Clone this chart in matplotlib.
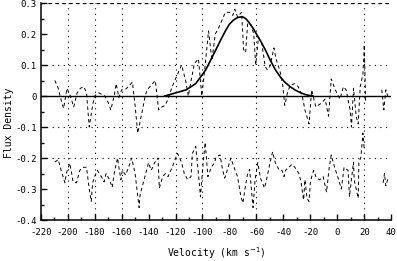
import numpy as np
import matplotlib
matplotlib.use("Agg")
import matplotlib.pyplot as plt
from matplotlib.ticker import MultipleLocator

# upper spectrum (velocity in km/s, flux density)
upper_v = [-209.5, -207, -204.5, -203, -200.5, -198, -195.5, -193, -190.5, -188,
           -186, -184, -181.5, -180, -177, -174.5, -172.5, -170, -168, -165.5,
           -164, -162, -160, -157.5, -155, -152, -150, -148, -145, -142.5,
           -141, -138, -135, -132.5, -130, -127.5, -125, -122.5, -120, -117.5,
           -115.5, -112.5, -110.5, -108, -106, -103, -100.5, -98, -95.5, -93,
           -90.5, -88, -85.5, -83, -80, -77.5, -76, -74, -71, -69.5,
           -68, -66.5, -64, -62, -60.5, -58.5, -56, -53.5, -52, -50,
           -47, -45.5, -42.5, -40.5, -39, -37, -35, -31.5, -29, -26,
           -24, -21, -19, -16, -12.5, -9, -6.5, -4.5, -1.5, 2,
           4.5, 6.5, 9.5, 10.5, 12, 14, 15.5, 17, 19, 20,
           21, 27, 33, 34.5, 36, 38]
upper_f = [0.05, 0.025, -0.02, -0.04, 0.025, 0.0, -0.035, 0.01, 0.025, 0.03,
           0.01, -0.1, -0.03, 0.0, 0.01, 0.005, 0.0, -0.02, -0.045, 0.0,
           0.04, -0.005, 0.02, 0.02, 0.03, 0.045, -0.03, -0.12, -0.055, 0.0,
           0.02, 0.035, 0.05, -0.045, -0.035, -0.03, -0.003, 0.03, 0.055, 0.08,
           0.1, 0.05, 0.0, 0.06, 0.105, 0.12, 0.0, 0.1, 0.21, 0.115,
           0.2, 0.22, 0.245, 0.27, 0.27, 0.26, 0.28, 0.255, 0.27, 0.15,
           0.14, 0.235, 0.23, 0.2, 0.1, 0.19, 0.17, 0.095, 0.085, 0.095,
           0.155, 0.12, 0.08, 0.035, -0.03, 0.01, 0.035, 0.04, 0.03, 0.0,
           -0.045, -0.09, 0.02, -0.035, -0.025, -0.01, -0.065, 0.055, 0.02, -0.01,
           0.03, 0.02, -0.045, -0.1, 0.025, -0.065, -0.09, 0.03, 0.07, 0.165,
           -0.02, np.nan, 0.02, -0.045, 0.02, -0.01]

# lower spectrum
lower_v = [-209.5, -207, -204.5, -202, -201, -198.5, -197, -196, -193.5, -191,
           -189, -186, -184, -182.5, -181.5, -180, -178, -175, -173, -171.5,
           -169, -167, -165.5, -163, -162, -160.5, -159.5, -157, -154, -152.5,
           -150, -147, -146.5, -145, -143, -140, -138, -135.5, -133, -132,
           -129.5, -127.5, -125.5, -122.5, -120.5, -118.5, -115.5, -113.5, -111, -108.5,
           -107.5, -105, -103, -101.5, -99.5, -98, -96, -93.5, -91, -90,
           -87, -85, -83.5, -81, -79, -76, -74, -71.5, -70, -68.5,
           -66.5, -65, -62.5, -61, -59, -57, -54, -52, -50, -48,
           -46, -43, -41, -39.5, -38.5, -36, -33.5, -31.5, -28.5, -27,
           -25, -24, -22.5, -21, -20, -19, -17.5, -15.5, -13, -10.5,
           -8, -6, -4.5, -2, 1, 3, 5, 8, 9, 12,
           12.5, 15.5, 16, 17.5, 19, 20, 27, 34, 35, 36, 38]
lower_f = [-0.213, -0.205, -0.245, -0.28, -0.25, -0.217, -0.25, -0.277, -0.28, -0.24,
           -0.23, -0.23, -0.3, -0.34, -0.28, -0.26, -0.24, -0.26, -0.277, -0.25,
           -0.27, -0.295, -0.25, -0.2, -0.23, -0.27, -0.24, -0.255, -0.22, -0.2,
           -0.25, -0.36, -0.325, -0.297, -0.265, -0.215, -0.24, -0.215, -0.2, -0.297,
           -0.26, -0.25, -0.26, -0.23, -0.207, -0.185, -0.215, -0.25, -0.27, -0.26,
           -0.185, -0.163, -0.25, -0.325, -0.215, -0.15, -0.26, -0.23, -0.215, -0.197,
           -0.19, -0.24, -0.265, -0.23, -0.2, -0.237, -0.26, -0.325, -0.345, -0.3,
           -0.25, -0.237, -0.36, -0.27, -0.215, -0.265, -0.297, -0.26, -0.217, -0.18,
           -0.215, -0.24, -0.24, -0.26, -0.24, -0.23, -0.22, -0.23, -0.25, -0.275,
           -0.335, -0.27, -0.33, -0.34, -0.28, -0.26, -0.24, -0.265, -0.27, -0.26,
           -0.31, -0.23, -0.19, -0.23, -0.27, -0.3, -0.23, -0.24, -0.325, -0.213,
           -0.27, -0.33, -0.215, -0.197, -0.12, -0.175, np.nan, -0.28, -0.25, -0.29, -0.26]

# gaussian fit to the emission feature
fit_v = [-128, -120, -112, -105, -97.5, -90, -86, -83, -80, -77, -74, -72,
         -70, -68, -66, -64, -62, -60, -57, -53.5, -50, -46, -42, -39, -35,
         -31.5, -28, -24, -20, -18]
fit_f = [0.0, 0.01, 0.02, 0.04, 0.085, 0.15, 0.185, 0.21, 0.232, 0.245, 0.253, 0.255,
         0.255, 0.25, 0.24, 0.228, 0.215, 0.2, 0.178, 0.15, 0.118, 0.085, 0.06, 0.045, 0.03,
         0.02, 0.012, 0.005, 0.001, 0.0]

grid_x = [-200, -180, -160, -120, -100, -60, 20]
grid_y = [0.1, -0.1, -0.2]

fig = plt.figure(figsize=(3.97, 2.61), dpi=100)
ax = fig.add_axes([0.1025, 0.157, 0.883, 0.8315])

for gx in grid_x:
    ax.axvline(gx, color="black", lw=0.8, dashes=(1, 4), zorder=1)
for gy in grid_y:
    ax.axhline(gy, color="black", lw=0.8, dashes=(1, 4), zorder=1)
ax.axhline(0.3, color="black", lw=0.9, dashes=(3, 2.5), zorder=1)
ax.axhline(0.0, color="black", lw=1.0, zorder=2)

ax.plot(upper_v, upper_f, color="black", lw=0.7, dashes=(3.5, 3), zorder=3)
ax.plot(lower_v, lower_f, color="black", lw=0.7, dashes=(3.5, 3), zorder=3)
ax.plot(fit_v, fit_f, color="black", lw=1.2, zorder=4)

ax.set_xlim(-220, 40)
ax.set_ylim(-0.4, 0.3)
ax.spines["top"].set_visible(False)
ax.spines["right"].set_visible(False)
ax.spines["left"].set_linewidth(1.1)
ax.spines["bottom"].set_linewidth(1.1)

ax.xaxis.set_major_locator(MultipleLocator(20))
ax.xaxis.set_minor_locator(MultipleLocator(10))
ax.yaxis.set_major_locator(MultipleLocator(0.1))
ax.yaxis.set_minor_locator(MultipleLocator(0.05))
ax.tick_params(which="both", direction="in", top=False, right=False,
               width=1.0, labelsize=6.5)
ax.tick_params(which="major", length=4)
ax.tick_params(which="minor", length=2.5)
ax.tick_params(axis="x", pad=6)
ax.tick_params(axis="y", pad=3)

ax.set_xticklabels([f"{int(t)}" for t in ax.get_xticks()], family="DejaVu Sans Mono")
ax.set_yticklabels([("0" if abs(t) < 1e-9 else f"{t:.1f}") for t in ax.get_yticks()],
                   family="DejaVu Sans Mono")

ax.set_xlabel("Velocity (km s$^{-1}$)", family="DejaVu Sans Mono", fontsize=7, labelpad=6)
ax.set_ylabel("Flux Density", family="DejaVu Sans Mono", fontsize=7)
ax.yaxis.set_label_coords(-0.075, 0.45)

fig.savefig("out.png", dpi=100)
